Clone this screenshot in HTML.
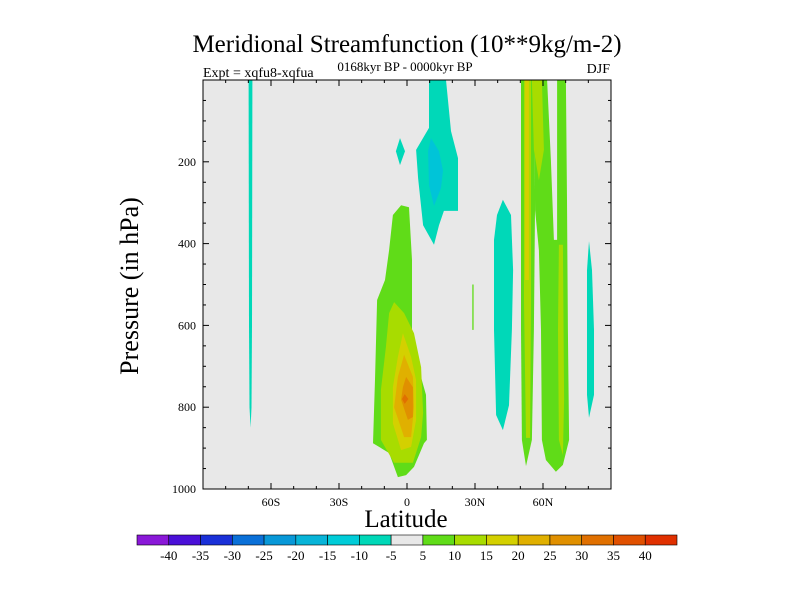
<!DOCTYPE html>
<html><head><meta charset="utf-8"><style>
body{margin:0;background:#fff;}
svg{display:block;font-family:"Liberation Serif",serif;}
</style></head><body>
<svg id="chart" width="800" height="600" viewBox="0 0 800 600">
<text x="407" y="52" text-anchor="middle" font-size="25">Meridional Streamfunction (10**9kg/m-2)</text>
<text x="405" y="71" text-anchor="middle" font-size="13">0168kyr BP - 0000kyr BP</text>
<text x="203" y="77" font-size="14">Expt = xqfu8-xqfua</text>
<text x="610" y="73" text-anchor="end" font-size="14">DJF</text>
<rect x="203" y="80" width="408" height="409" fill="#e8e8e8"/>
<g id="fills"></g>
<rect x="203" y="80" width="408" height="409" fill="none" stroke="#000" stroke-width="1"/>
<g id="axes"></g>
<text x="406" y="527" text-anchor="middle" font-size="25">Latitude</text>
<text transform="translate(138,286) rotate(-90)" text-anchor="middle" font-size="26">Pressure (in hPa)</text>
<g id="cbar"></g>
</svg>
<script>
const latTicks=[-60,-30,0,30,60];
const latTickLabels=["60S","30S","0","30N","60N"];
const pTicks=[200,400,600,800,1000];
const cbLabels=["-40","-35","-30","-25","-20","-15","-10","-5","5","10","15","20","25","30","35","40"];
const levelColors={"-10":"#00c4d8","-5":"#00d8b8","5":"#60dc18","10":"#a8dc00","15":"#d4d000","20":"#e0b000","25":"#e09000","30":"#e07000"};
const cbColors=["#8a18d8","#4a10d8","#1a30d8","#0a70d8","#0898d8","#08b4d8","#00ccd8","#00d8b8","#e8e8e8","#60dc18","#a8dc00","#d4d000","#e0b000","#e09000","#e07000","#e05000","#e03000"];
// contour regions: [level, [[lat,pressure],...]]
const regions=[
[-5,[[-69.9,0],[-68.2,0],[-68.4,600],[-68.6,800],[-69.0,850],[-69.5,800],[-69.7,600]]],
[5,[[-6.2,330],[-2.6,306],[0.9,311],[2.2,440],[2.2,653],[5.3,709],[8.4,770],[8.8,880],[7.5,888],[3.1,946],[-0.4,966],[-4.0,971],[-7.9,912],[-15.0,888],[-14.1,733],[-13.2,538],[-9.7,489],[-7.9,416]]],
[10,[[-5.7,543],[-1.3,570],[3.1,619],[6.2,702],[7.1,814],[6.2,873],[2.6,936],[-5.7,936],[-11.5,880],[-11.5,758],[-9.3,653],[-7.9,570]]],
[15,[[-1.8,619],[1.8,677],[4.0,734],[4.0,831],[1.8,897],[-2.6,905],[-6.2,839],[-6.2,751],[-4.0,677]]],
[20,[[-1.3,672],[2.6,726],[3.1,800],[1.8,873],[-1.3,873],[-5.7,800],[-4.0,726]]],
[25,[[-0.4,726],[2.6,751],[2.6,824],[0.4,831],[-2.6,782],[-1.8,751]]],
[30,[[-1,768],[0.6,780],[-1,792],[-2.2,780]]],
[-5,[[9.7,0],[17.2,0],[19.4,125],[22.5,191],[22.5,320],[16.3,320],[14.1,355],[11.9,403],[7.1,355],[4.9,240],[4.0,171],[9.7,117]]],
[-10,[[10.6,142],[14.1,174],[15.9,222],[15.0,264],[11.9,308],[9.7,257],[9.3,174]]],
[-5,[[-4.9,174],[-3.1,142],[-0.9,174],[-3.1,208]]],
[-5,[[42.3,293],[45.9,330],[46.8,465],[46.3,611],[45.0,795],[42.3,856],[39.3,819],[38.4,611],[38.4,391],[39.7,330]]],
[-5,[[80.3,394],[81.6,465],[82.5,611],[82.5,770],[80.3,826],[79.4,770],[79.4,465]]],
[5,[[28.8,500],[29.4,500],[29.4,611],[28.8,611]]],
[5,[[50.3,0],[56.0,0],[56.5,293],[56.0,611],[55.1,880],[52.5,944],[50.7,880],[50.3,611]]],
[5,[[56.0,0],[61.8,0],[63.5,196],[64.8,391],[66.2,391],[66.2,0],[70.1,0],[70.6,293],[71.0,611],[71.5,880],[68.8,941],[65.7,958],[61.3,929],[59.5,880],[59.1,611],[58.2,416],[56.5,318]]],
[10,[[51.6,0],[54.7,0],[54.7,538],[54.3,875],[52.5,875],[51.6,538]]],
[15,[[52.1,0],[53.8,0],[53.8,489],[52.1,489]]],
[10,[[55.1,0],[59.5,0],[60.4,171],[58.2,245],[56.0,171]]],
[10,[[67.0,403],[68.8,403],[69.3,782],[68.8,917],[67.0,880],[66.6,611]]]
];
const NS="http://www.w3.org/2000/svg";
const X0=203,X1=611,Y0=80,Y1=489;
function x(lat){return X0+(lat+90)/180*(X1-X0);}
function y(p){return Y0+p/1000*(Y1-Y0);}
function mk(tag,attrs,parent){const e=document.createElementNS(NS,tag);for(const k in attrs)e.setAttribute(k,attrs[k]);parent.appendChild(e);return e;}
const fills=document.getElementById('fills');
regions.forEach((r,i)=>{
  const pts=r[1].map(q=>x(q[0]).toFixed(1)+","+y(q[1]).toFixed(1)).join(" ");
  const el=mk('polygon',{points:pts,fill:levelColors[String(r[0])]},fills);
  
  
});
const axes=document.getElementById('axes');
for(let lat=-90;lat<=90;lat+=10){
  const major=lat%30===0, len=major?6:3;
  const t1=mk('line',{x1:x(lat),x2:x(lat),y1:Y1,y2:Y1-len,stroke:'#000'},axes);
  
  
  const t2=mk('line',{x1:x(lat),x2:x(lat),y1:Y0,y2:Y0+len,stroke:'#000'},axes);
  
  
}
latTicks.forEach((v,i)=>{
  const t=mk('text',{x:x(v),y:506,'text-anchor':'middle','font-size':12},axes);
  t.textContent=latTickLabels[i];
  
  
});
for(let p=0;p<=1000;p+=50){
  const len=p%200===0?6:3;
  const a=mk('line',{x1:X0,x2:X0+len,y1:y(p),y2:y(p),stroke:'#000'},axes);
  
  
  const b=mk('line',{x1:X1,x2:X1-len,y1:y(p),y2:y(p),stroke:'#000'},axes);
  
  
}
pTicks.forEach(v=>{
  const t=mk('text',{x:196,y:y(v)+4,'text-anchor':'end','font-size':12},axes);
  t.textContent=String(v);
  
  
});
const cb=document.getElementById('cbar');
const CB0=137,CB1=677,n=cbColors.length,w=(CB1-CB0)/n;
cbColors.forEach((c,i)=>{
  const r=mk('rect',{x:CB0+i*w,y:535,width:w,height:10,fill:c,stroke:'#000','stroke-width':0.6},cb);
  
  
});
cbLabels.forEach((l,i)=>{
  const t=mk('text',{x:CB0+(i+1)*w,y:560,'text-anchor':'middle','font-size':13},cb);
  t.textContent=l;
  
  
});
</script>
</body></html>
